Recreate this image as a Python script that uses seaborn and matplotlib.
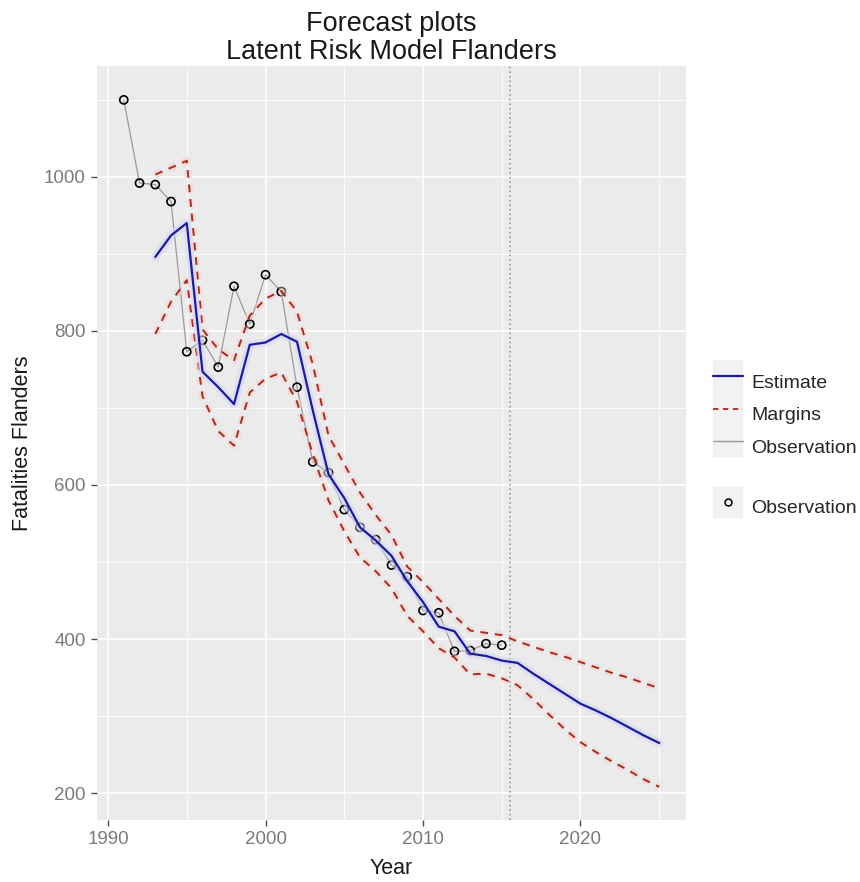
import numpy as np
import pandas as pd
import matplotlib
matplotlib.use("Agg")
import matplotlib.pyplot as plt
import matplotlib.patheffects as pe
import seaborn as sns
from matplotlib.lines import Line2D
from matplotlib.patches import Rectangle
from matplotlib.legend_handler import HandlerLine2D
from matplotlib.ticker import MultipleLocator

# Observed fatalities (Flanders)
obs_years = list(range(1991, 2016))
observed = [1100, 992, 990, 968, 773, 788, 753, 858, 809, 873, 851, 727, 630,
            616, 568, 545, 529, 496, 481, 437, 434, 384, 385, 394, 392]

# Latent risk model: smoothed estimate and forecast with margins
fc_years = list(range(1993, 2026))
estimate = [896, 924, 940, 747, 727, 705, 782, 785, 796, 786, 697, 614, 583,
            545, 528, 508, 475, 448, 416, 410, 381, 378, 372, 369, 355, 342,
            329, 316, 307, 297, 286, 275, 265]
upper = [1003, 1012, 1021, 802, 776, 762, 820, 842, 852, 825, 757, 664, 627,
         590, 561, 535, 494, 474, 452, 430, 411, 408, 405, 397, 390, 383,
         377, 370, 363, 356, 350, 343, 336]
lower = [796, 838, 866, 715, 670, 651, 720, 738, 746, 708, 640, 580, 540,
         506, 488, 466, 430, 410, 388, 376, 354, 355, 349, 340, 322, 302,
         283, 266, 253, 241, 230, 218, 208]

forecast_start = 2015.5
x_ticks = [1990, 2000, 2010, 2020]
y_ticks = [200, 400, 600, 800, 1000]

BLUE = "#1a1aa2"
RED = "#ad2820"
GREY = "#9a9a9a"

sns.set_theme(style="darkgrid")
plt.rcParams["font.family"] = ["Liberation Sans", "DejaVu Sans"]

fig = plt.figure(figsize=(8.6, 8.82), dpi=100)
ax = fig.add_axes([97 / 860, 1 - 820 / 882, 589 / 860, 754 / 882])
ax.set_facecolor("#EBEBEB")

obs_df = pd.DataFrame({"Year": obs_years, "Fatalities": observed})
fc_df = pd.DataFrame({"Year": fc_years, "Estimate": estimate,
                      "Upper": upper, "Lower": lower})

ax.axvline(forecast_start, color="#8c8c8c", lw=1.1, linestyle=(0, (1, 2)), zorder=2)

red_glow = [pe.Stroke(linewidth=5.5, foreground="#f6d3cc", alpha=0.55), pe.Normal()]
blue_glow = [pe.Stroke(linewidth=6, foreground="#d6d6f4", alpha=0.6), pe.Normal()]

sns.lineplot(data=obs_df, x="Year", y="Fatalities", color=GREY, lw=0.9,
             ax=ax, zorder=3)
sns.scatterplot(data=obs_df, x="Year", y="Fatalities", marker="o",
                facecolor="none", edgecolor="black", linewidth=1.2, s=34,
                ax=ax, zorder=4)
for col in ["Upper", "Lower"]:
    sns.lineplot(data=fc_df, x="Year", y=col, color=RED, lw=1.4,
                 linestyle=(0, (4, 3.5)), path_effects=red_glow,
                 ax=ax, zorder=5)
sns.lineplot(data=fc_df, x="Year", y="Estimate", color=BLUE, lw=1.6,
             path_effects=blue_glow, ax=ax, zorder=6)

ax.set_xlim(1989.3, 2026.7)
ax.set_ylim(165, 1144)
ax.set_xticks(x_ticks)
ax.set_yticks(y_ticks)
ax.xaxis.set_minor_locator(MultipleLocator(5))
ax.yaxis.set_minor_locator(MultipleLocator(100))
ax.grid(which="major", color="white", lw=1.2)
ax.grid(which="minor", color="white", lw=0.6)
ax.set_axisbelow(True)
for s in ax.spines.values():
    s.set_visible(False)
ax.tick_params(which="major", length=4, width=1, color="#4d4d4d",
               labelsize=13.5, labelcolor="#7a7a7a", pad=4,
               bottom=True, left=True)
ax.tick_params(which="minor", length=0)

ax.set_xlabel("Year", fontsize=15.5, color="#1a1a1a", labelpad=7)
ax.set_ylabel("Fatalities Flanders", fontsize=15.5, color="#1a1a1a", labelpad=8)
ax.set_title("Forecast plots\nLatent Risk Model Flanders", fontsize=19.5,
             color="#1a1a1a", pad=5, linespacing=1.1)


class KeyHandler(HandlerLine2D):
    """Legend key drawn on a light grey tile, like ggplot keys."""

    def create_artists(self, legend, orig_handle, xdescent, ydescent,
                       width, height, fontsize, trans):
        arts = super().create_artists(legend, orig_handle, xdescent, ydescent,
                                      width, height, fontsize, trans)
        yc = (height - ydescent) / 2.0
        bg = Rectangle((-xdescent, yc - height / 2.0), width, height,
                       facecolor="#F2F2F2", edgecolor="none", transform=trans)
        return [bg] + arts


legend_kw = dict(loc="center left", frameon=False, fontsize=14,
                 handlelength=1.55, handleheight=2.2, labelspacing=0,
                 handletextpad=0.4, borderpad=0, borderaxespad=0)

h_est = Line2D([], [], color=BLUE, lw=1.6)
h_mar = Line2D([], [], color=RED, lw=1.3, linestyle=(0, (3, 2.5)))
h_obs = Line2D([], [], color=GREY, lw=1.0)
fig.legend([h_est, h_mar, h_obs], ["Estimate", "Margins", "Observation"],
           bbox_to_anchor=(713 / 860, 1 - 414 / 882),
           handler_map={Line2D: KeyHandler()}, **legend_kw)

h_pt = Line2D([], [], ls="none", marker="o", mfc="none", mec="black",
              ms=5, mew=1.1)
fig.legend([h_pt], ["Observation"], bbox_to_anchor=(713 / 860, 1 - 507 / 882),
           handler_map={Line2D: KeyHandler(numpoints=1)}, **legend_kw)

fig.savefig("out.png", dpi=100, facecolor="white")
